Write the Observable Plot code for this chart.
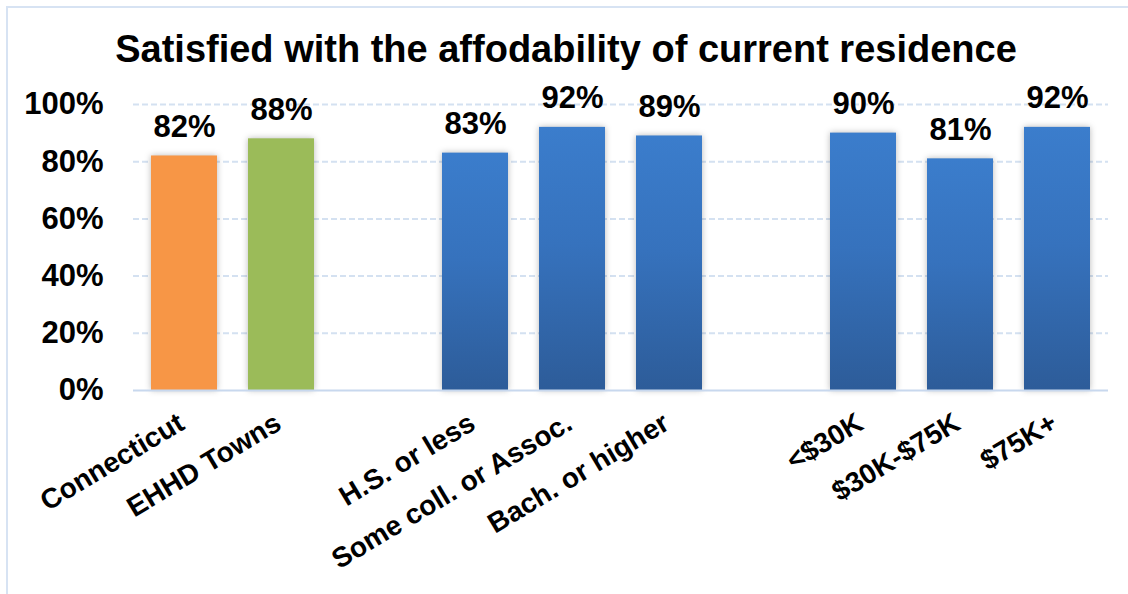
<!DOCTYPE html>
<html>
<head>
<meta charset="utf-8">
<script src="https://cdn.jsdelivr.net/npm/d3@7"></script>
<script src="https://cdn.jsdelivr.net/npm/@observablehq/plot@0.6"></script>
<style>
  html, body { margin: 0; padding: 0; background: #fff; overflow: hidden; }
  #wrap { position: relative; width: 1128px; height: 594px; overflow: hidden; font-family: "Liberation Sans", Arial, sans-serif; }
  #frame { position: absolute; left: 6px; top: 6px; width: 1300px; height: 800px; border: 2px solid #d7e3f3; box-sizing: border-box; }
  #title { position: absolute; left: 0; top: 30px; width: 1132px; text-align: center; font-size: 38px; line-height: 38px; font-weight: bold; color: #000; }
  #chart { position: absolute; left: 0; top: 0; }
  .bars rect { filter: drop-shadow(0px 0px 3px rgba(0,0,0,0.28)); }
</style>
</head>
<body>
<div id="wrap">
  <div id="frame"></div>
  <div id="title">Satisfied with the affodability of current residence</div>
  <div id="chart"></div>
</div>
<script>
// ---- data ----
const categories = ["Connecticut", "EHHD Towns", " ", "H.S. or less", "Some coll. or Assoc.", "Bach. or higher", "  ", "<$30K", "$30K-$75K", "$75K+"];
const barCategories = ["Connecticut", "EHHD Towns", "H.S. or less", "Some coll. or Assoc.", "Bach. or higher", "<$30K", "$30K-$75K", "$75K+"];
const barValues = [0.82, 0.88, 0.83, 0.92, 0.89, 0.90, 0.81, 0.92];
const yTicks = [0, 0.2, 0.4, 0.6, 0.8, 1.0];

// ---- styles ----
const fillFor = c => c === "Connecticut" ? "#f79646" : c === "EHHD Towns" ? "#9bbb59" : "url(#blueGrad)";

const data = barCategories.map((c, i) => ({category: c, value: barValues[i]}));

const defs = () => {
  const ns = "http://www.w3.org/2000/svg";
  const d = document.createElementNS(ns, "defs");
  d.innerHTML = `<linearGradient id="blueGrad" x1="0" y1="0" x2="0" y2="1">
      <stop offset="0" stop-color="#3b7dcc"/>
      <stop offset="0.45" stop-color="#3672bd"/>
      <stop offset="1" stop-color="#2d5c99"/>
    </linearGradient>`;
  return d;
};

const chart = Plot.plot({
  width: 1128,
  height: 594,
  marginLeft: 133,
  marginRight: 20,
  marginTop: 104,
  marginBottom: 204,
  style: {fontFamily: "'Liberation Sans', Arial, sans-serif", background: "transparent", overflow: "visible"},
  x: {domain: categories, paddingInner: 0.32, paddingOuter: 0.17, label: null},
  y: {domain: [0, 1], label: null},
  marks: [
    defs,
    Plot.gridY(yTicks.filter(t => t > 0), {stroke: "#d4e1f1", strokeOpacity: 1, strokeWidth: 2, strokeDasharray: "6,3"}),
    Plot.barY(data, {x: "category", y: "value", fill: d => fillFor(d.category), className: "bars"}),
    Plot.ruleY([0], {stroke: "#c8d8ee", strokeWidth: 2}),
    Plot.text(data, {x: "category", y: "value", text: d => d3.format(".0%")(d.value), dy: -19, lineAnchor: "bottom", fontSize: 31, fontWeight: "bold", fill: "#000"}),
    Plot.axisY({ticks: yTicks, tickFormat: d3.format(".0%"), tickSize: 0, tickPadding: 30, fontSize: 31, fontWeight: "bold", fill: "#000", label: null}),
    Plot.axisX({tickSize: 0, tickPadding: 30, dx: -3, tickRotate: -31, fontSize: 28, fontWeight: "bold", fill: "#000", label: null, tickFormat: d => d.trim()})
  ]
});
document.getElementById("chart").appendChild(chart);
</script>
</body>
</html>
